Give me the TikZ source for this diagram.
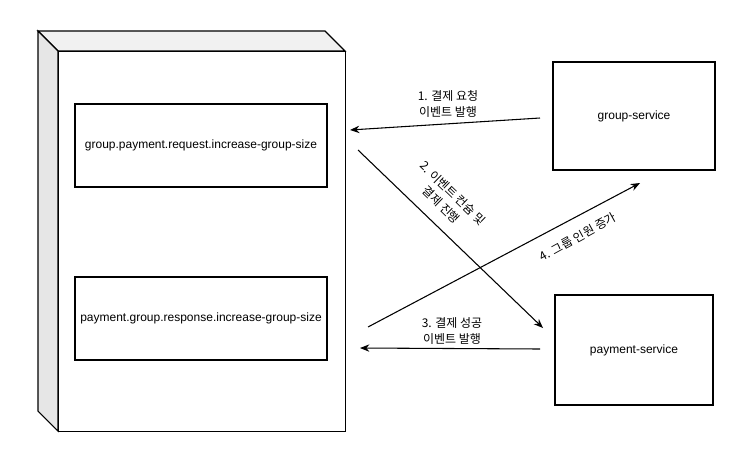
\documentclass[tikz,border=0pt]{standalone}
\usepackage{fontspec}
\setmainfont{Liberation Sans}
\newfontfamily\kr{Noto Sans CJK KR}
\usetikzlibrary{arrows.meta}
\definecolor{topface}{HTML}{F1F1F1}
\definecolor{sideface}{HTML}{E6E6E6}
\begin{document}
\begin{tikzpicture}[x=0.75pt,y=-0.75pt,
  box/.style={draw=black,line width=0.8pt,fill=white,inner sep=0pt,font=\fontsize{9}{11}\selectfont},
  conn/.style={draw=black,line width=0.8pt,-{Stealth[length=7pt,width=5.5pt]}},
  lbl/.style={font=\kr\fontsize{9}{11.5}\selectfont,align=center,inner sep=1pt}]
\useasboundingbox (0,0) rectangle (748,454);
% 3D box
\filldraw[fill=topface,line width=0.8pt] (38,31) -- (325,31) -- (345,51) -- (58,51) -- cycle;
\filldraw[fill=sideface,line width=0.8pt] (38,31) -- (58,51) -- (58,431) -- (38,411) -- cycle;
\node[box,minimum width=287*0.75pt,minimum height=380*0.75pt,anchor=north west] (container) at (58,51) {};
% inner boxes
\node[box,minimum width=252*0.75pt,minimum height=83*0.75pt] (req) at (201,145.5) {group.payment.request.increase-group-size};
\node[box,minimum width=252*0.75pt,minimum height=83*0.75pt] (resp) at (201,318.5) {payment.group.response.increase-group-size};
\node[box,minimum width=162*0.75pt,minimum height=108*0.75pt] (gs) at (634,116) {group-service};
\node[box,minimum width=158*0.75pt,minimum height=110*0.75pt] (ps) at (634,350) {payment-service};
% connector endpoints
\coordinate (a1s) at (540,118); \coordinate (a1e) at (350,130);
\coordinate (a2s) at (358,150); \coordinate (a2e) at (543,328);
\coordinate (a3s) at (540,349); \coordinate (a3e) at (360,348);
\coordinate (a4s) at (368,327); \coordinate (a4e) at (640,183);
\draw[conn] (a1s) -- (a1e);
\draw[conn] (a2s) -- (a2e);
\draw[conn] (a3s) -- (a3e);
\draw[conn] (a4s) -- (a4e);
% labels
\node[lbl] (l1) at (448,104) {1. 결제 요청\\이벤트 발행};
\node[lbl,rotate=-44,font=\kr\fontsize{9}{12.5}\selectfont] (l2) at (447,199) {2. 이벤트 컨슘 및\\결제 진행};
\node[lbl] (l3) at (452,331) {3. 결제 성공\\이벤트 발행};
\node[lbl,rotate=29] (l4) at (578,237) {4. 그룹 인원 증가};
\end{tikzpicture}
\end{document}
